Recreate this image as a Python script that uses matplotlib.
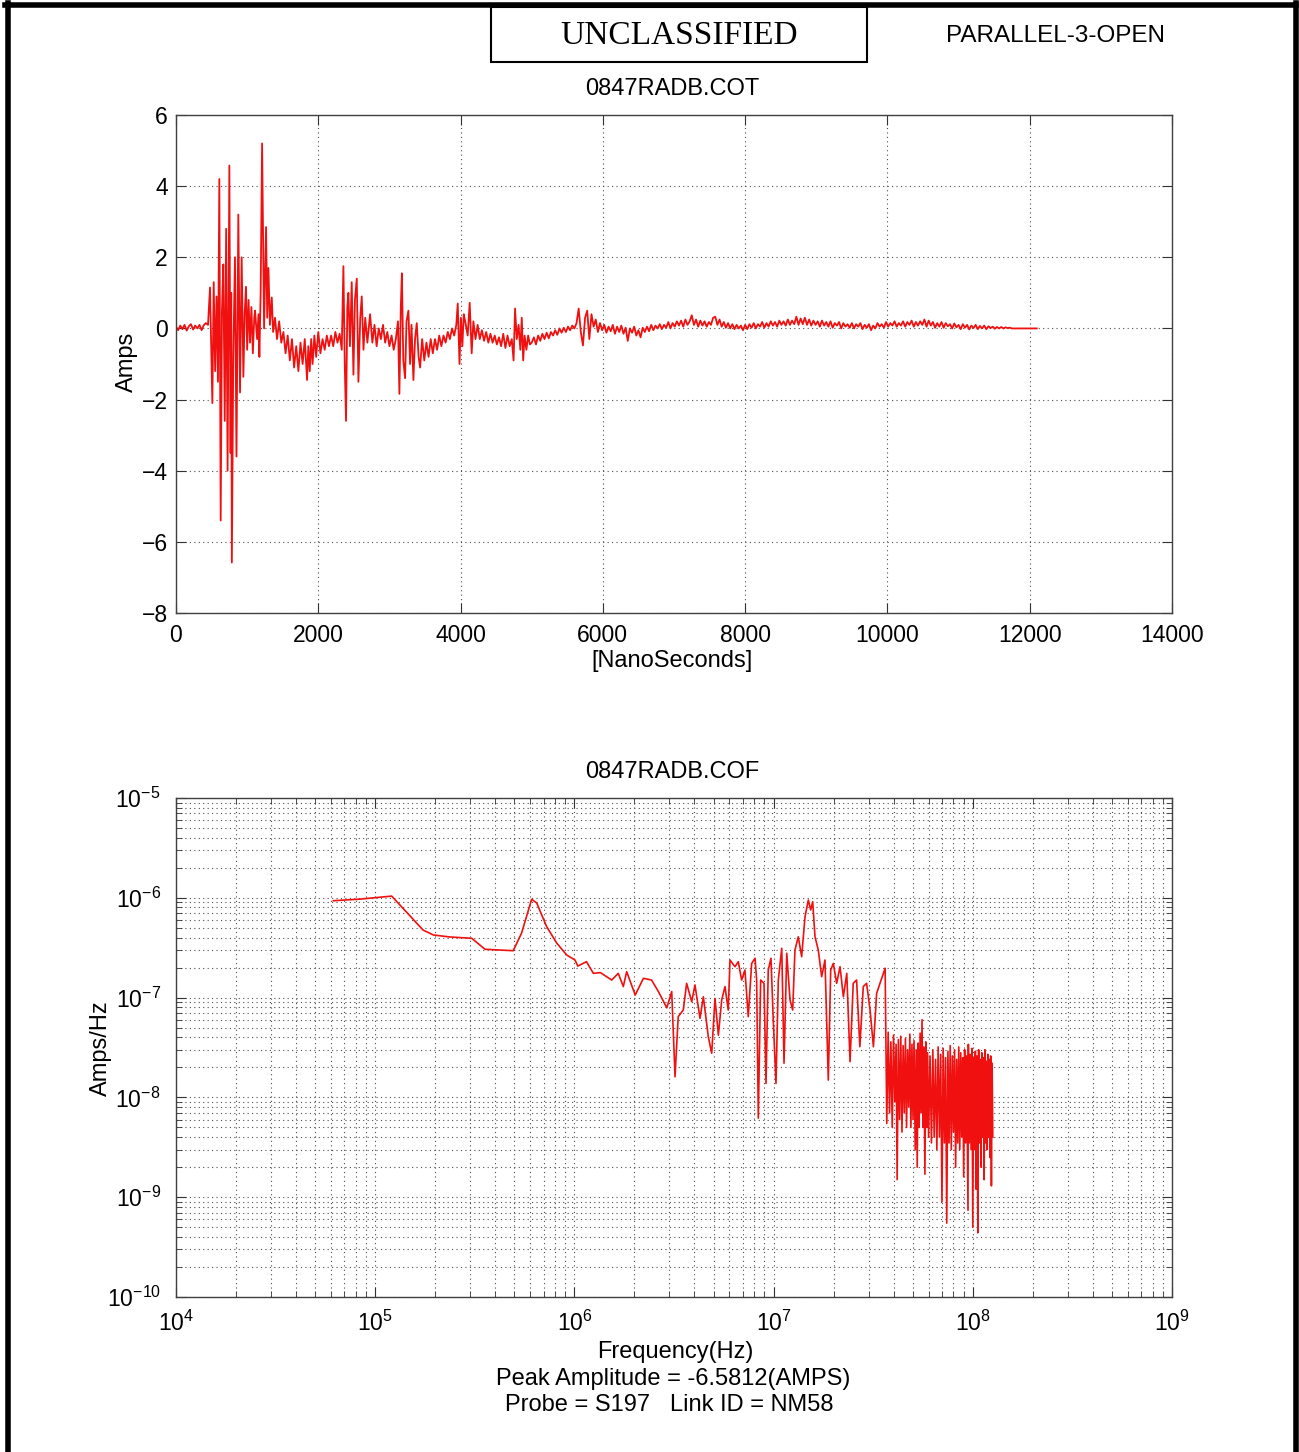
import numpy as np
import matplotlib
matplotlib.use("Agg")
import matplotlib.pyplot as plt
from matplotlib.patches import Rectangle
from matplotlib.lines import Line2D

plt.rcParams['font.family'] = ['Liberation Sans', 'DejaVu Sans']
plt.rcParams['mathtext.fontset'] = 'custom'
plt.rcParams['mathtext.rm'] = 'Liberation Sans'
plt.rcParams['mathtext.it'] = 'Liberation Sans'
plt.rcParams['mathtext.bf'] = 'Liberation Sans'
plt.rcParams['mathtext.default'] = 'regular'

# ---- time domain trace (0847RADB.COT) ----
# early part: explicit (time ns, amps) points through the bursts
burst_t = [0, 30, 60, 90, 120, 150, 180, 210, 240, 270, 300, 330, 360, 390, 420,
           450, 478, 495, 511, 530, 550, 570, 590, 609, 628, 646, 665, 685, 705, 725,
           750, 767, 776, 785, 805, 829, 850, 876, 900, 923, 947, 965, 984, 1000, 1020,
           1040, 1060, 1080, 1100, 1111, 1140, 1160, 1172, 1190, 1210, 1238, 1266, 1282, 1299, 1320,
           1346, 1365, 1392, 1420, 1450, 1480, 1510, 1540, 1570, 1600, 1630, 1660, 1690, 1720, 1750,
           1780, 1810, 1842, 1860, 1880, 1900, 1920, 1945, 1970, 2000, 2030, 2060, 2090, 2120, 2150,
           2180, 2210, 2240, 2270, 2300, 2330, 2353, 2372, 2390, 2408, 2423, 2445, 2470, 2494, 2515,
           2541, 2564, 2590, 2611, 2635, 2660, 2690, 2728, 2760, 2790, 2820, 2850, 2880, 2910, 2940,
           2970, 3000, 3030, 3060, 3090, 3120, 3140, 3160, 3175, 3195, 3220, 3240, 3267, 3290, 3310,
           3337, 3360, 3384, 3410, 3431, 3460, 3490, 3520, 3550, 3580, 3610, 3640, 3670, 3700, 3730,
           3760, 3790, 3820, 3850, 3880, 3910, 3940, 3960, 3985, 4005, 4025, 4045, 4065, 4100, 4128,
           4156, 4180, 4210, 4240, 4270, 4300, 4330, 4360, 4390, 4420, 4450, 4480, 4510, 4540, 4570,
           4600, 4630, 4660, 4690, 4720, 4745, 4766, 4790, 4815, 4840, 4860, 4880, 4900, 4925, 4950,
           4975]
burst_a = [0.05, -0.05, 0.08, -0.02, 0.1, -0.06, 0.06, 0.12, -0.03, 0.08, 0.0, 0.1, -0.05, 0.09, 0.15,
           0.1, 1.15, -0.6, -2.1, 1.3, -1.2, 0.9, -1.5, 4.2, -5.4, 0.5, 1.8, -2.6, 2.8, -4.0,
           4.58, -3.5, 1.0, -6.58, -0.8, 2.0, -3.6, 3.2, -1.8, 2.0, -1.36, 0.4, 1.17, -0.6, 0.8,
           -0.4, 0.6, -0.7, 0.3, 0.5, -0.3, 0.4, -0.8, 1.0, 5.2, 0.0, 2.85, 0.3, 1.7, 0.1,
           0.87, -0.1, 0.3, -0.3, 0.2, -0.4, -0.1, -0.7, -0.2, -0.9, -0.3, -1.1, -0.5, -1.2, -0.4,
           -1.0, -0.3, -1.45, -0.5, -1.2, -0.3, -1.0, -0.2, -0.8, -0.1, -0.7, -0.3, -0.6, -0.2, -0.5,
           -0.2, -0.5, -0.1, -0.4, -0.15, -0.6, 1.75, -1.0, -2.6, 0.6, 1.0, -0.5, 1.3, -1.3, 0.8,
           1.4, -1.5, 0.3, 0.9, -0.6, 0.3, -0.4, 0.4, -0.4, 0.1, -0.5, 0.0, -0.3, 0.1, -0.4,
           -0.1, -0.5, -0.2, -0.6, -0.3, 0.2, -1.84, 0.6, 1.55, -0.9, -1.4, 0.2, 0.5, -1.0, 0.1,
           -1.45, -0.3, 0.15, -0.8, -1.1, -0.3, -0.9, -0.4, -0.8, -0.3, -0.7, -0.3, -0.6, -0.2, -0.5,
           -0.2, -0.4, -0.1, -0.3, 0.0, -0.2, 0.1, 0.7, -1.0, 0.3, -0.5, 0.4, 0.2, -0.2, 0.72,
           -0.7, 0.2, -0.3, 0.1, -0.3, -0.05, -0.35, -0.1, -0.4, -0.15, -0.4, -0.2, -0.45, -0.25, -0.5,
           -0.15, -0.55, -0.2, -0.5, -0.3, -0.9, 0.56, -0.3, 0.1, -0.6, 0.3, -0.9, -0.2, -0.6, -0.2,
           -0.45]
# tail: sampled every 30 ns from 5000 ns
tail_start, tail_step = 5000, 30
tail_a = [-0.4, -0.25, -0.45, -0.2, -0.35, -0.15, -0.3, -0.12, -0.28, -0.1,
          -0.2, -0.05, -0.18, 0.0, -0.12, 0.02, -0.1, 0.05, -0.05, 0.08,
          0.0, 0.15, 0.56, -0.1, -0.48, 0.3, 0.5, -0.3, 0.4, 0.05,
          0.25, -0.1, 0.15, -0.05, 0.1, -0.12, 0.05, -0.08, 0.1, -0.15,
          0.05, -0.1, 0.08, -0.15, 0.02, -0.35, 0.0, -0.12, 0.05, -0.2,
          -0.05, -0.25, 0.02, -0.1, 0.05, -0.08, 0.1, -0.05, 0.08, 0.0,
          0.12, -0.02, 0.1, 0.02, 0.18, 0.0, 0.15, 0.05, 0.2, 0.08,
          0.22, 0.05, 0.25, 0.1, 0.2, 0.37, 0.1, 0.25, 0.05, 0.22,
          0.08, 0.2, 0.05, 0.18, 0.1, 0.3, 0.33, 0.1, 0.25, 0.05,
          0.18, 0.02, 0.15, 0.0, 0.12, -0.02, 0.1, 0.0, 0.08, -0.05,
          0.1, -0.02, 0.12, 0.02, 0.15, 0.0, 0.12, 0.05, 0.18, 0.02,
          0.15, 0.05, 0.2, 0.08, 0.18, 0.05, 0.22, 0.1, 0.2, 0.08,
          0.25, 0.1, 0.22, 0.12, 0.33, 0.1, 0.28, 0.12, 0.3, 0.1,
          0.25, 0.08, 0.22, 0.1, 0.2, 0.05, 0.22, 0.08, 0.18, 0.05,
          0.2, 0.02, 0.15, 0.08, 0.18, 0.0, 0.15, 0.05, 0.12, 0.02,
          0.15, 0.0, 0.12, 0.05, 0.15, -0.02, 0.1, 0.02, 0.12, -0.05,
          0.08, 0.0, 0.15, 0.05, 0.12, 0.02, 0.18, 0.05, 0.15, 0.08,
          0.2, 0.05, 0.15, 0.08, 0.2, 0.05, 0.18, 0.1, 0.22, 0.05,
          0.18, 0.08, 0.2, 0.1, 0.25, 0.05, 0.22, 0.08, 0.18, 0.02,
          0.15, 0.05, 0.18, 0.02, 0.15, 0.06, 0.12, 0.0, 0.14, 0.03,
          0.1, -0.02, 0.12, 0.02, 0.1, -0.03, 0.08, 0.01, 0.1, -0.02,
          0.07, 0.0, 0.08, -0.02, 0.06, 0.01, 0.05, -0.01, 0.04, 0.0,
          0.04, 0.0, 0.03, 0.01, 0.02, 0.0, 0.0, 0.0, 0.0, 0.0]
end_t, end_a = 12100, 0.0

# ---- spectrum (0847RADB.COF) ----
freq_hz = [6.17e4, 8.4e4, 1.21e5, 1.74e5, 1.96e5, 2.37e5, 3.05e5, 3.56e5, 4.93e5, 5.43e5,
           6.10e5, 6.47e5, 7.26e5, 8.15e5, 9.15e5, 1.007e6, 1.04e6, 1.15e6, 1.245e6, 1.35e6,
           1.54e6, 1.66e6, 1.76e6, 1.83e6, 2.02e6, 2.22e6, 2.44e6, 2.64e6, 2.91e6, 3.08e6,
           3.20e6, 3.32e6, 3.52e6, 3.66e6, 3.88e6, 4.03e6, 4.27e6, 4.44e6, 4.70e6, 4.89e6,
           5.08e6, 5.28e6, 5.49e6, 5.70e6, 5.92e6, 6.04e6, 6.40e6, 6.65e6, 6.91e6, 7.18e6,
           7.46e6, 7.76e6, 8.07e6, 8.22e6, 8.38e6, 8.61e6, 8.95e6, 9.16e6, 9.40e6, 9.70e6,
           9.96e6, 1.028e7, 1.056e7, 1.099e7, 1.128e7, 1.164e7, 1.209e7, 1.247e7, 1.280e7, 1.330e7,
           1.383e7, 1.438e7, 1.494e7, 1.535e7, 1.571e7, 1.614e7, 1.676e7, 1.743e7, 1.811e7, 1.882e7,
           1.935e7, 1.994e7, 2.073e7, 2.155e7, 2.24e7, 2.33e7, 2.42e7, 2.51e7, 2.61e7, 2.71e7,
           2.82e7, 2.93e7, 3.05e7, 3.17e7, 3.29e7, 3.42e7, 3.63e7, 3.70e7]
spec_amp = [9.35e-7, 9.7e-7, 1.04e-6, 4.75e-7, 4.24e-7, 4.05e-7, 3.93e-7, 3.05e-7, 2.95e-7, 4.43e-7,
            9.66e-7, 8.87e-7, 5.13e-7, 3.52e-7, 2.67e-7, 2.38e-7, 2.07e-7, 2.29e-7, 1.75e-7, 1.78e-7,
            1.50e-7, 1.75e-7, 1.29e-7, 1.82e-7, 1.06e-7, 1.56e-7, 1.50e-7, 1.15e-7, 7.9e-8, 1.15e-7,
            1.61e-8, 6.44e-8, 7.5e-8, 1.39e-7, 9.1e-8, 1.34e-7, 6.2e-8, 1.02e-7, 4.06e-8, 2.77e-8,
            9.8e-8, 4.2e-8, 9.5e-8, 1.29e-7, 7.5e-8, 2.38e-7, 2.04e-7, 2.29e-7, 1.50e-7, 1.89e-7,
            6.44e-8, 2.20e-7, 2.48e-7, 1.50e-7, 6.2e-9, 1.50e-7, 1.39e-7, 1.38e-8, 1.89e-7, 2.48e-7,
            5.97e-8, 1.38e-8, 1.50e-7, 3.12e-7, 2.2e-8, 2.78e-7, 9.5e-8, 7.5e-8, 3.0e-7, 4.07e-7,
            2.57e-7, 6.47e-7, 9.5e-7, 7.55e-7, 9.14e-7, 4.07e-7, 3.0e-7, 1.62e-7, 2.38e-7, 1.49e-8,
            1.89e-7, 2.20e-7, 1.39e-7, 2.04e-7, 1.02e-7, 1.75e-7, 2.28e-8, 1.39e-7, 1.50e-7, 3.22e-8,
            1.29e-7, 1.39e-7, 7.5e-8, 3.22e-8, 1.10e-7, 1.39e-7, 1.97e-7, 5.5e-9]
# dense high-frequency part, MHz
dense_mhz = [37.6, 38.2, 38.8, 39.4, 40.0, 40.6, 41.2, 41.7, 42.3, 42.9,
             43.5, 44.1, 44.7, 45.3, 45.9, 46.5, 47.1, 47.7, 48.3, 48.9,
             49.5, 50.1, 50.7, 51.4, 52.0, 52.6, 53.2, 53.8, 54.4, 55.0,
             55.6, 56.2, 56.8, 57.5, 58.1, 58.7, 59.3, 60.0, 61, 62,
             63, 64, 65, 66, 67, 68, 69, 70, 71, 72,
             73, 74, 75, 76, 77, 78, 79, 80, 81, 82,
             83, 84, 85, 86, 87, 88, 89, 90, 91, 92,
             93, 94.6, 95, 96, 97, 98, 99, 100, 101, 102,
             103, 104, 105, 106, 107, 108, 109, 110, 111, 112,
             113, 114, 115, 116, 117, 118, 119, 120, 121, 122,
             123, 124, 125, 126]
dense_amp = [4.5e-8, 7e-9, 3.6e-8, 5e-9, 4.2e-8, 9e-9, 3.4e-8, 1.5e-9, 3.8e-8, 6e-9,
             4.1e-8, 4.5e-9, 3.3e-8, 7e-9, 3.9e-8, 5e-9, 3.0e-8, 8e-9, 4.3e-8, 5e-9,
             3.4e-8, 6e-9, 3.7e-8, 3e-9, 3.0e-8, 2e-9, 3.5e-8, 5e-9, 4.4e-8, 7e-9,
             6.0e-8, 5e-9, 3.2e-8, 1.7e-9, 3.6e-8, 5e-9, 2.8e-8, 4e-9, 2.6e-8, 3.5e-9,
             3.0e-8, 4e-9, 2.4e-8, 3e-9, 3.2e-8, 4e-9, 2.7e-8, 9e-10, 3.1e-8, 3.5e-9,
             2.5e-8, 5.5e-10, 2.9e-8, 3.5e-9, 3.3e-8, 3e-9, 2.6e-8, 4.5e-9, 3.0e-8, 2e-9,
             2.4e-8, 3.5e-9, 3.2e-8, 3e-9, 2.8e-8, 4e-9, 2.5e-8, 1.6e-9, 3.0e-8, 3.5e-9,
             2.6e-8, 7.4e-10, 3.4e-8, 3.5e-9, 2.7e-8, 3e-9, 3.1e-8, 5e-10, 2.5e-8, 3e-9,
             2.9e-8, 1.2e-9, 2.6e-8, 4.4e-10, 3.0e-8, 3.5e-9, 2.4e-8, 2e-9, 2.8e-8, 4e-9,
             2.5e-8, 1.5e-9, 3.0e-8, 3.5e-9, 2.3e-8, 3e-9, 2.7e-8, 4e-9, 2.4e-8, 2.5e-9,
             2.6e-8, 1.3e-9, 2.2e-8, 4e-9]

title_top = '0847RADB.COT'
title_bot = '0847RADB.COF'
peak_amp = -6.5812
probe, link_id = 'S197', 'NM58'

W, H = 1299, 1452
fig = plt.figure(figsize=(W / 100, H / 100), dpi=100)
fig.patch.set_facecolor('white')

def fx(px):
    return px / W

def fy(py):
    return 1 - py / H

line_color = '#f01010'
grid_kw = dict(color='0.3', linestyle=(0, (1, 3)), linewidth=0.8)


def style_axes(ax):
    for s in ax.spines.values():
        s.set_color('0.25')
        s.set_linewidth(1.0)
    ax.tick_params(which='both', direction='in', top=True, right=True,
                   labelsize=16.5, colors='0.2', labelcolor='black')
    ax.tick_params(which='major', length=7)
    ax.tick_params(which='minor', length=4.5)


# top panel
ax1 = fig.add_axes([fx(176), fy(613), fx(996), 498 / H])
t_all = np.concatenate([burst_t, tail_start + tail_step * np.arange(len(tail_a)), [end_t]])
a_all = np.concatenate([burst_a, tail_a, [end_a]])
ax1.plot(t_all, a_all, color=line_color, linewidth=1.3)
ax1.set_xlim(0, 14000)
ax1.set_ylim(-8, 6)
ax1.set_xticks(np.arange(0, 14001, 2000))
ax1.set_yticks(np.arange(-8, 7, 2))
ax1.grid(True, **grid_kw)
style_axes(ax1)
ax1.tick_params(axis='x', pad=8)
ax1.tick_params(axis='y', pad=6)

# bottom panel
ax2 = fig.add_axes([fx(176), fy(1297), fx(996), 499 / H])
f_all = np.concatenate([freq_hz, np.array(dense_mhz) * 1e6])
s_all = np.concatenate([spec_amp, dense_amp])
ax2.plot(f_all, s_all, color=line_color, linewidth=1.2)
ax2.set_xscale('log')
ax2.set_yscale('log')
ax2.set_xlim(1e4, 1e9)
ax2.set_ylim(1e-10, 1e-5)
ax2.grid(True, which='both', **grid_kw)
style_axes(ax2)
ax2.tick_params(axis='x', pad=10)
ax2.tick_params(axis='y', pad=11)

# texts
txt = dict(fontsize=17, ha='center', va='center')
fig.text(fx(672), fy(89), title_top, **txt)
fig.text(fx(672), fy(661), '[NanoSeconds]', **txt)
fig.text(fx(127), fy(362), 'Amps', rotation=90, **txt)
fig.text(fx(672), fy(772), title_bot, **txt)
fig.text(fx(101), fy(1048), 'Amps/Hz', rotation=90, **txt)
fig.text(fx(675), fy(1352), 'Frequency(Hz)', **txt)
fig.text(fx(673), fy(1379), 'Peak Amplitude = %.4f(AMPS)' % peak_amp, **txt)
fig.text(fx(669), fy(1405), 'Probe = %s   Link ID = %s' % (probe, link_id), **txt)

# header
fig.patches.append(Rectangle((fx(491), fy(62)), fx(376), 55 / H, transform=fig.transFigure,
                             fill=False, edgecolor='black', linewidth=1.5))
fig.text(fx(679), fy(36), 'UNCLASSIFIED', fontsize=24, ha='center', va='center',
         family=['Liberation Serif'])
fig.text(fx(1055), fy(36), 'PARALLEL-3-OPEN', fontsize=17.5, ha='center', va='center')

# page frame (top, left, right)
for xs, ys in [([fx(5), fx(1296)], [fy(5), fy(5)]),
               ([fx(7.5), fx(7.5)], [fy(3), 0]),
               ([fx(1296), fx(1296)], [fy(3), 0])]:
    fig.lines.append(Line2D(xs, ys, transform=fig.transFigure, color='black', linewidth=4))

fig.savefig('out.png', dpi=100)
